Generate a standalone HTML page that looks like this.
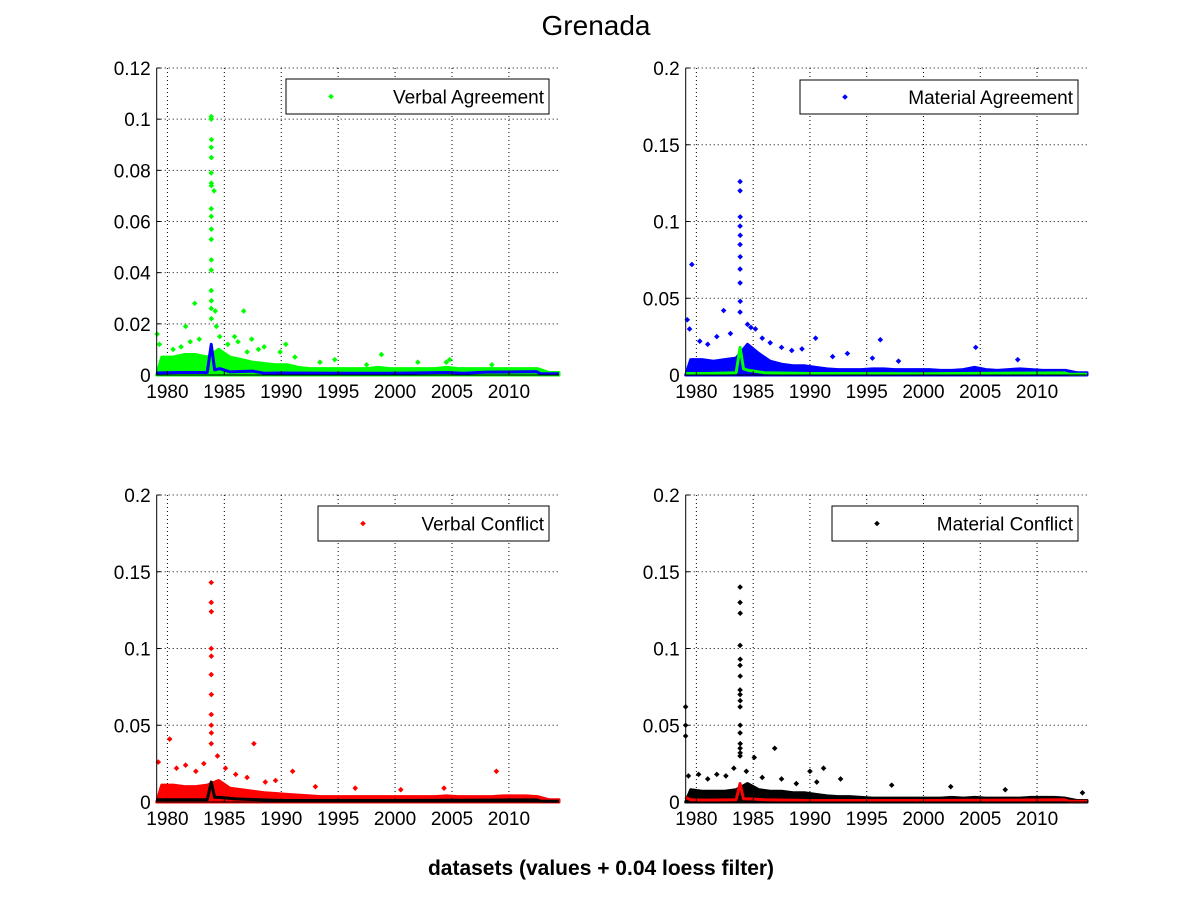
<!DOCTYPE html>
<html><head><meta charset="utf-8"><style>
html,body{margin:0;padding:0;background:#fff;}
svg text{font-family:"Liberation Sans",Arial,sans-serif;}
</style></head><body>
<svg id="fig" width="1201" height="901" viewBox="0 0 1201 901" xmlns="http://www.w3.org/2000/svg">
<rect width="1201" height="901" fill="#fff"/>
<text x="596" y="35" font-size="28" text-anchor="middle">Grenada</text>
<text x="601" y="875" font-size="21" font-weight="bold" text-anchor="middle">datasets (values + 0.04 loess filter)</text>
</svg>
<script>
const years = [1979,1980,1981,1982,1983,1984,1985,1986,1987,1988,1989,1990,1991,1992,1993,1994,1995,1996,1997,1998,1999,2000,2001,2002,2003,2004,2005,2006,2007,2008,2009,2010,2011,2012,2013,2014];
const xTicks = [1980,1985,1990,1995,2000,2005,2010];

const vaBand = [0.007,0.007,0.008,0.008,0.007,0.010,0.007,0.006,0.005,0.0045,0.004,0.004,0.003,0.0025,0.0025,0.0025,0.0025,0.0025,0.0025,0.003,0.0025,0.0025,0.0025,0.0025,0.0025,0.003,0.0025,0.0025,0.0025,0.0025,0.0025,0.0025,0.0025,0.0025,0.001,0.001];
const vaOutX = [1983.85,1983.85,1983.87,1983.85,1983.86,1983.85,1983.86,1983.86,1984.1,1983.85,1983.85,1983.86,1983.85,1983.86,1983.85,1983.85,1983.86,1983.85,1983.86,1979.1,1979.3,1981.6,1982.4,1984.2,1984.3,1986.7,1985.9,1987.4,1988.5,1990.4,1998.8,2004.8,2002.0,1989.9,1980.5,1981.2,1982.0,1982.8,1984.6,1985.3,1986.2,1987.0,1988.0,1991.2,1993.4,1994.7,1997.5,2004.5,2008.5];
const vaOutY = [0.100,0.101,0.092,0.089,0.085,0.079,0.075,0.074,0.072,0.065,0.062,0.057,0.053,0.045,0.041,0.033,0.029,0.026,0.022,0.016,0.012,0.019,0.028,0.025,0.019,0.025,0.015,0.014,0.011,0.012,0.008,0.006,0.005,0.009,0.010,0.011,0.013,0.014,0.015,0.012,0.013,0.009,0.010,0.007,0.005,0.006,0.004,0.005,0.004];
const vaLoX = [1979,1981,1983.5,1983.85,1984.15,1984.6,1985.5,1987.5,1988.5,1990,1995,2000,2004.5,2006,2008,2012.4,2012.8,2014.4];
const vaLoY = [0.0008,0.001,0.001,0.012,0.002,0.0025,0.0012,0.0015,0.0007,0.0008,0.0007,0.0007,0.001,0.0007,0.0011,0.0013,0.0005,0.0005];

const maBand = [0.010,0.010,0.009,0.010,0.011,0.020,0.014,0.009,0.007,0.006,0.006,0.005,0.004,0.0035,0.0035,0.0035,0.004,0.004,0.0035,0.0035,0.0035,0.0035,0.003,0.003,0.0035,0.005,0.0035,0.003,0.0035,0.004,0.0035,0.003,0.003,0.003,0.0015,0.0015];
const maOutX = [1983.85,1983.85,1983.86,1983.85,1983.86,1983.85,1983.86,1983.85,1983.85,1983.86,1983.85,1979.6,1979.2,1979.4,1982.4,1984.5,1996.2,2004.6,1990.5,1984.8,1980.3,1981.0,1981.8,1983.0,1985.2,1985.8,1986.5,1987.5,1988.4,1989.3,1992.0,1993.3,1995.5,1997.8,2008.3];
const maOutY = [0.126,0.120,0.103,0.097,0.091,0.085,0.077,0.069,0.060,0.048,0.041,0.072,0.036,0.030,0.042,0.033,0.023,0.018,0.024,0.031,0.022,0.020,0.025,0.027,0.030,0.024,0.021,0.018,0.016,0.017,0.012,0.014,0.011,0.009,0.010];
const maLoX = [1979,1981,1983.5,1983.85,1984.15,1984.6,1986,1990,2000,2008,2012.4,2012.8,2014.4];
const maLoY = [0.001,0.001,0.0015,0.018,0.004,0.003,0.0015,0.001,0.0008,0.0012,0.0014,0.0005,0.0005];

const vcBand = [0.011,0.011,0.010,0.010,0.011,0.014,0.009,0.008,0.007,0.006,0.0055,0.005,0.0045,0.004,0.0035,0.0035,0.0035,0.0035,0.0035,0.0035,0.0035,0.0035,0.0035,0.0035,0.0035,0.004,0.0035,0.0035,0.0035,0.0035,0.004,0.004,0.004,0.0035,0.0015,0.0015];
const vcOutX = [1983.85,1983.85,1983.86,1983.85,1983.86,1983.85,1983.86,1983.85,1983.85,1983.86,1983.85,1980.2,1979.2,1987.6,2008.9,1991.0,1984.4,1980.8,1981.6,1982.5,1983.2,1985.1,1986.0,1987.0,1988.6,1989.5,1993.0,1996.5,2000.5,2004.3];
const vcOutY = [0.143,0.130,0.124,0.100,0.095,0.083,0.070,0.057,0.050,0.045,0.038,0.041,0.026,0.038,0.020,0.020,0.030,0.022,0.024,0.020,0.025,0.022,0.018,0.016,0.013,0.014,0.010,0.009,0.008,0.009];
const vcLoX = [1979,1981,1983.5,1983.85,1984.15,1984.6,1986,1988,1990,2000,2008,2012.4,2012.8,2014.4];
const vcLoY = [0.0015,0.0015,0.0015,0.013,0.003,0.003,0.002,0.0015,0.001,0.001,0.0012,0.0014,0.0005,0.0005];

const mcBand = [0.008,0.007,0.007,0.007,0.008,0.012,0.008,0.007,0.007,0.006,0.006,0.005,0.004,0.0035,0.0035,0.003,0.0025,0.0025,0.0025,0.0025,0.0025,0.0025,0.0025,0.003,0.0025,0.003,0.0025,0.0025,0.0025,0.0025,0.003,0.003,0.003,0.0025,0.001,0.001];
const mcOutX = [1983.85,1983.85,1983.86,1983.85,1983.86,1983.85,1983.86,1983.85,1983.85,1983.86,1983.85,1983.86,1983.85,1983.86,1983.85,1983.86,1983.85,1979.05,1979.05,1979.05,1986.9,1985.1,1991.2,1990.0,1997.2,1979.3,1980.2,1981.0,1981.8,1982.6,1983.3,1984.4,1985.8,1987.5,1988.8,1990.6,1992.7,2002.4,2007.2,2014.0];
const mcOutY = [0.140,0.130,0.123,0.102,0.093,0.089,0.082,0.073,0.070,0.066,0.062,0.050,0.045,0.038,0.035,0.032,0.030,0.062,0.050,0.043,0.035,0.029,0.022,0.020,0.011,0.017,0.018,0.015,0.018,0.017,0.022,0.020,0.016,0.015,0.012,0.013,0.015,0.010,0.008,0.006];
const mcLoX = [1979,1979.5,1981,1983.5,1983.85,1984.15,1984.6,1986,1990,2000,2008,2012.4,2012.8,2014.4];
const mcLoY = [0.003,0.0015,0.0012,0.0015,0.012,0.002,0.002,0.0015,0.001,0.001,0.0012,0.0015,0.0005,0.0005];

const panels = [
 {name:'verbal-agreement',x0:156.7,x1:559,y0:68,y1:375,ymax:0.12,yt:[0,0.02,0.04,0.06,0.08,0.1,0.12],yl:['0','0.02','0.04','0.06','0.08','0.1','0.12'],band:vaBand,ox:vaOutX,oy:vaOutY,lx:vaLoX,ly:vaLoY,pc:'#00ff00',lc:'#0000ff',label:'Verbal Agreement',lg:[286,79,549,114]},
 {name:'material-agreement',x0:685.7,x1:1087,y0:68,y1:375,ymax:0.2,yt:[0,0.05,0.1,0.15,0.2],yl:['0','0.05','0.1','0.15','0.2'],band:maBand,ox:maOutX,oy:maOutY,lx:maLoX,ly:maLoY,pc:'#0000ff',lc:'#00ff00',label:'Material Agreement',lg:[800,80,1078,114]},
 {name:'verbal-conflict',x0:156.7,x1:559,y0:495,y1:802,ymax:0.2,yt:[0,0.05,0.1,0.15,0.2],yl:['0','0.05','0.1','0.15','0.2'],band:vcBand,ox:vcOutX,oy:vcOutY,lx:vcLoX,ly:vcLoY,pc:'#ff0000',lc:'#000000',label:'Verbal Conflict',lg:[318,506,549,541]},
 {name:'material-conflict',x0:685.7,x1:1087,y0:495,y1:802,ymax:0.2,yt:[0,0.05,0.1,0.15,0.2],yl:['0','0.05','0.1','0.15','0.2'],band:mcBand,ox:mcOutX,oy:mcOutY,lx:mcLoX,ly:mcLoY,pc:'#000000',lc:'#ff0000',label:'Material Conflict',lg:[832,506,1078,541]}
];
const NS='http://www.w3.org/2000/svg';
const svg=document.getElementById('fig');
function mk(tag,attrs,parent){const e=document.createElementNS(NS,tag);for(const k in attrs)e.setAttribute(k,attrs[k]);(parent||svg).appendChild(e);return e;}
function diamond(x,y,r){return `M${x-r},${y}L${x},${y-r}L${x+r},${y}L${x},${y+r}Z`;}
panels.forEach(p=>{
  const g=mk('g',{});
  
  
  const X0=1979.06,X1=2014.4;
  const sx=v=>p.x0+(v-X0)/(X1-X0)*(p.x1-p.x0);
  const sy=v=>p.y1-v/p.ymax*(p.y1-p.y0);
  xTicks.forEach(t=>{const l=mk('line',{x1:sx(t),x2:sx(t),y1:p.y0,y2:p.y1,stroke:'#000','stroke-width':1,'stroke-dasharray':'1,3'},g);
    });
  p.yt.forEach(t=>{if(t===0)return;const l=mk('line',{x1:p.x0,x2:p.x1,y1:sy(t),y2:sy(t),stroke:'#000','stroke-width':1,'stroke-dasharray':'1,3'},g);
    });
  let d=`M${sx(X0)},${sy(0)}`;
  years.forEach((yr,i)=>{d+=`L${sx(Math.max(X0,Math.min(yr+0.5,X1)))},${sy(p.band[i])}`;});
  d+=`L${sx(X1)},${sy(p.band[p.band.length-1])}L${sx(X1)},${sy(0)}Z`;
  const band=mk('path',{d:d,fill:p.pc,stroke:p.pc,'stroke-width':3,'stroke-linejoin':'round'},g);
  
  let od='';
  p.ox.forEach((x,i)=>{od+=diamond(sx(x),sy(p.oy[i]),2.8);});
  const out=mk('path',{d:od,fill:p.pc},g);
  
  const lp=mk('polyline',{points:p.lx.map((x,i)=>sx(x)+','+sy(p.ly[i])).join(' '),fill:'none',stroke:p.lc,'stroke-width':3,'stroke-linejoin':'round'},g);
  
  const ax=mk('path',{d:`M${p.x0},${p.y0}L${p.x0},${p.y1}L${p.x1},${p.y1}`,fill:'none',stroke:'#000','stroke-width':1},g);
  
  xTicks.forEach(t=>{mk('line',{x1:sx(t),x2:sx(t),y1:p.y1,y2:p.y1-4,stroke:'#000'},g);
    const tx=mk('text',{x:sx(t),y:p.y1+23,'font-size':19,'text-anchor':'middle'},g);tx.textContent=t;
    });
  p.yt.forEach((t,i)=>{mk('line',{x1:p.x0,x2:p.x0+4,y1:sy(t),y2:sy(t),stroke:'#000'},g);
    const tx=mk('text',{x:p.x0-6,y:sy(t)+7,'font-size':19,'text-anchor':'end'},g);tx.textContent=p.yl[i];
    });
  const [lx0,ly0,lx1,ly1]=p.lg;
  const lgG=mk('g',{},g);
  
  mk('rect',{x:lx0,y:ly0,width:lx1-lx0,height:ly1-ly0,fill:'#fff',stroke:'#000','stroke-width':1},lgG);
  mk('path',{d:diamond(lx0+45,(ly0+ly1)/2,2.8),fill:p.pc},lgG);
  const lt=mk('text',{x:lx1-5,y:(ly0+ly1)/2+7,'font-size':19,'text-anchor':'end'},lgG);lt.textContent=p.label;
  
});
</script>
</body></html>
